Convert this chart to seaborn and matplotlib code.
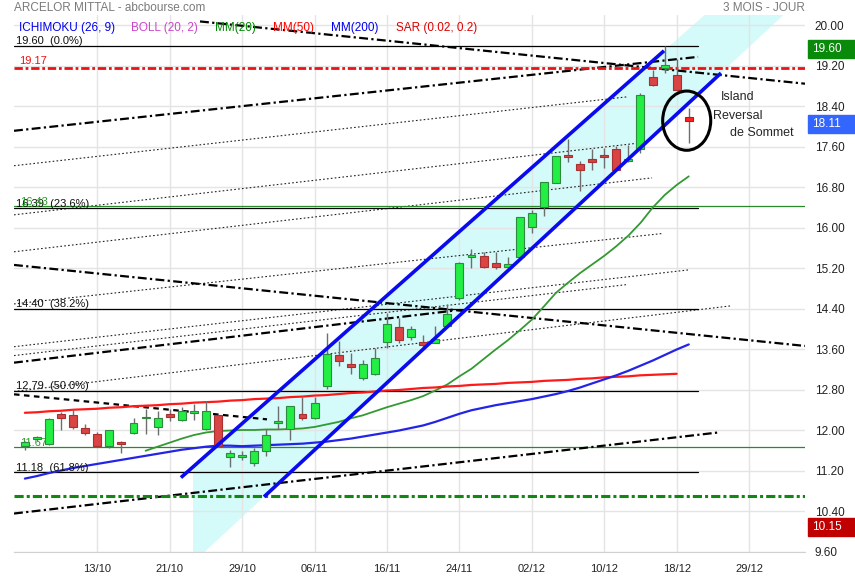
import matplotlib.pyplot as plt
import matplotlib.transforms as mtransforms
from matplotlib.patches import Ellipse, Rectangle
import seaborn as sns

sns.set_style("white")
plt.rcParams["font.family"] = ["Liberation Sans", "DejaVu Sans"]

# daily candles 05/10 -> 21/12 (one entry per trading day)
opens = [11.69, 11.83, 11.74, 12.33, 12.31, 12.05, 11.93, 11.70, 11.77, 11.96,
         12.24, 12.07, 12.33, 12.20, 12.35, 12.03, 12.31, 11.47, 11.47, 11.36,
         11.60, 12.15, 12.02, 12.33, 12.25, 12.87, 13.50, 13.31, 13.04, 13.12,
         13.74, 14.05, 13.84, 13.74, 13.73, 14.06, 14.62, 15.43, 15.45, 15.31,
         15.23, 15.43, 16.02, 16.41, 16.89, 17.45, 17.27, 17.37, 17.45, 17.57,
         17.33, 17.56, 18.99, 19.16, 19.03, 18.20]
highs = [11.80, 11.90, 12.25, 12.36, 12.43, 12.13, 11.98, 12.01, 11.79, 12.25,
         12.42, 12.38, 12.42, 12.46, 12.53, 12.58, 12.33, 11.62, 11.60, 11.65,
         12.02, 12.48, 12.49, 12.67, 12.67, 13.93, 13.76, 13.53, 13.40, 13.63,
         14.32, 14.22, 14.06, 13.89, 14.06, 14.49, 15.33, 15.59, 15.52, 15.52,
         15.43, 16.22, 16.36, 16.91, 17.43, 17.75, 17.32, 17.57, 17.58, 17.61,
         17.64, 18.66, 19.13, 19.60, 19.33, 18.37]
lows = [11.62, 11.80, 11.72, 12.00, 12.03, 11.92, 11.69, 11.65, 11.56, 11.94,
        11.94, 11.92, 12.18, 12.19, 12.21, 12.01, 11.68, 11.27, 11.42, 11.29,
        11.49, 12.02, 11.82, 12.20, 12.22, 12.82, 13.27, 13.12, 13.00, 13.10,
        13.63, 13.73, 13.79, 13.63, 13.72, 14.04, 14.58, 15.21, 15.21, 15.19,
        15.22, 15.41, 15.90, 16.23, 16.88, 17.30, 16.73, 17.15, 17.19, 17.15,
        17.30, 17.48, 18.80, 19.07, 18.70, 17.67]
closes = [11.77, 11.87, 12.23, 12.24, 12.06, 11.95, 11.70, 12.00, 11.73, 12.15,
          12.26, 12.25, 12.27, 12.39, 12.39, 12.38, 11.70, 11.56, 11.52, 11.59,
          11.92, 12.19, 12.49, 12.25, 12.54, 13.51, 13.37, 13.25, 13.31, 13.43,
          14.11, 13.79, 14.01, 13.69, 13.81, 14.30, 15.31, 15.45, 15.23, 15.23,
          15.29, 16.22, 16.30, 16.91, 17.43, 17.40, 17.15, 17.30, 17.40, 17.15,
          17.36, 18.62, 18.83, 19.21, 18.72, 18.11]

# moving averages as drawn on the chart
mm20_first = 10
mm20 = [11.60, 11.68, 11.76, 11.84, 11.91, 11.96, 11.99, 12.00, 12.01, 12.01,
        12.02, 12.02, 12.03, 12.04, 12.07, 12.12, 12.17, 12.24, 12.30, 12.38,
        12.46, 12.53, 12.60, 12.68, 12.79, 12.91, 13.07, 13.22, 13.41, 13.60,
        13.78, 13.98, 14.19, 14.45, 14.72, 14.92, 15.11, 15.28, 15.45, 15.64,
        15.85, 16.10, 16.40, 16.65, 16.85, 17.02]
mm50 = [12.35, 12.36, 12.38, 12.39, 12.41, 12.42, 12.43, 12.45, 12.46, 12.48,
        12.49, 12.50, 12.52, 12.53, 12.55, 12.56, 12.57, 12.59, 12.60, 12.62,
        12.63, 12.64, 12.66, 12.67, 12.69, 12.70, 12.72, 12.74, 12.75, 12.77,
        12.79, 12.80, 12.82, 12.84, 12.85, 12.87, 12.88, 12.90, 12.91, 12.92,
        12.94, 12.95, 12.96, 12.98, 12.99, 13.00, 13.02, 13.03, 13.05, 13.06,
        13.07, 13.09, 13.10, 13.11, 13.12]
mm200 = [11.05, 11.10, 11.16, 11.21, 11.26, 11.30, 11.34, 11.38, 11.42, 11.46,
         11.50, 11.54, 11.58, 11.62, 11.65, 11.68, 11.70, 11.70, 11.69, 11.70,
         11.71, 11.72, 11.73, 11.74, 11.76, 11.78, 11.81, 11.84, 11.88, 11.92,
         11.96, 12.00, 12.05, 12.10, 12.17, 12.25, 12.33, 12.40, 12.45, 12.50,
         12.54, 12.58, 12.62, 12.67, 12.72, 12.78, 12.85, 12.93, 13.01, 13.09,
         13.18, 13.28, 13.38, 13.49, 13.60, 13.70]

xtick_pos = [6, 12, 18, 24, 30, 36, 42, 48, 54, 60]
xtick_labels = ["13/10", "21/10", "29/10", "06/11", "16/11", "24/11",
                "02/12", "10/12", "18/12", "29/12"]
ytick_vals = [20.00, 19.20, 18.40, 17.60, 16.80, 16.00, 15.20, 14.40,
              13.60, 12.80, 12.00, 11.20, 10.40, 9.60]

fib_levels = [19.60, 16.39, 14.40, 12.79, 11.18]
fib_labels = ["19.60  (0.0%)", "16.39  (23.6%)", "14.40  (38.2%)",
              "12.79  (50.0%)", "11.18  (61.8%)"]
fib_end = 55.77

# hand drawn objects: (bar0, price0, bar1, price1)
channel_upper = (12.93, 11.07, 52.95, 19.50)
channel_lower = (19.81, 10.69, 57.67, 19.06)
band_x = [13.93, 64.63]
band_low = [9.39, 20.60]
band_high = [11.28, 21.96]

dotted_lines = [(-0.9, 17.23, 49.88, 18.59), (-0.9, 16.26, 50.96, 17.68),
                (-0.9, 15.53, 51.96, 16.99), (-0.9, 14.50, 52.78, 15.89),
                (-0.9, 13.655, 55.10, 15.175), (-0.9, 13.48, 49.80, 14.88),
                (-0.9, 12.77, 58.42, 14.46)]
dashdot_lines = [(-0.9, 17.92, 55.77, 19.38), (-0.9, 13.34, 35.63, 14.37),
                 (-0.9, 10.36, 57.42, 11.96), (14.51, 20.08, 64.63, 18.85),
                 (-0.9, 15.27, 64.63, 13.67)]
dashed_line = (-0.9, 12.715, 20.06, 12.22)

green_levels = [16.43, 11.67]
red_dashdot_level = 19.17
green_dashdot_level = 10.70

price_tags = [19.60, 18.11, 10.15]
tag_colors = ["#0a8a0a", "#3366ff", "#c00000"]

fig = plt.figure(figsize=(8.55, 5.8), dpi=100)
ax = fig.add_axes([14 / 855, 28 / 580, 791 / 855, 537 / 580])
ax.set_xlim(-0.9, 64.63)
ax.set_ylim(9.6, 20.207)
ax.set_axisbelow(True)
ax.grid(True, color="#e4e4e4", lw=1.0)
for s in ["left", "right", "top"]:
    ax.spines[s].set_visible(False)
ax.spines["bottom"].set_color("#d0d0d0")

ax.fill_between(band_x, band_low, band_high, color="#d4fafa", lw=0, zorder=0.2)

dd = (0, (4, 1.5, 1, 1.5))
for x0, y0, x1, y1 in dotted_lines:
    ax.plot([x0, x1], [y0, y1], color="#222222", lw=0.8, ls=(0, (1.5, 2)), zorder=1)
for x0, y0, x1, y1 in dashdot_lines:
    ax.plot([x0, x1], [y0, y1], color="black", lw=1.6, ls=dd, zorder=1.2)
x0, y0, x1, y1 = dashed_line
ax.plot([x0, x1], [y0, y1], color="black", lw=1.6, ls=(0, (2.5, 2)), zorder=1.2)

for lvl, lab in zip(fib_levels, fib_labels):
    ax.plot([-0.9, fib_end], [lvl, lvl], color="black", lw=0.9, zorder=1)
    ax.text(-0.75, lvl - 0.01, lab, fontsize=8, va="bottom", ha="left", color="#111111")

for lvl in green_levels:
    ax.axhline(lvl, color="#2a8a2a", lw=0.9, zorder=1)
    ax.text(-0.4, lvl - 0.01, f"{lvl:.2f}", fontsize=8, va="bottom", color="#2a9a2a")
ax.axhline(red_dashdot_level, color="#ee1111", lw=2.0, ls=(0, (3, 1, 1, 1)), zorder=1.3)
ax.text(-0.5, red_dashdot_level + 0.03, f"{red_dashdot_level:.2f}", fontsize=8,
        va="bottom", color="#ee1111")
ax.axhline(green_dashdot_level, color="#118811", lw=2.2, ls=(0, (3, 1, 1, 1)), zorder=1.3)

# moving averages
sns.lineplot(x=list(range(mm20_first, mm20_first + len(mm20))), y=mm20, ax=ax,
             color="#339933", lw=1.3, legend=False, zorder=2)
sns.lineplot(x=list(range(len(mm50))), y=mm50, ax=ax, color="#ff1a1a", lw=1.6,
             legend=False, zorder=2)
sns.lineplot(x=list(range(len(mm200))), y=mm200, ax=ax, color="#2424e8", lw=1.6,
             legend=False, zorder=2)

# candles
idx = list(range(len(closes)))
ax.vlines(idx, lows, highs, color="#6e6e6e", lw=1.0, zorder=3)
body_col, edge_col = [], []
for i, (o, c) in enumerate(zip(opens, closes)):
    if c >= o:
        body_col.append("#22ee44")
        edge_col.append("#2d8a3e")
    elif i == len(closes) - 1:
        body_col.append("#ff2020")
        edge_col.append("#cc1010")
    else:
        body_col.append("#d94444")
        edge_col.append("#a83030")
heights = [max(abs(c - o), 0.03) for o, c in zip(opens, closes)]
bottoms = [min(o, c) for o, c in zip(opens, closes)]
ax.bar(idx, heights, bottom=bottoms, width=0.66, color=body_col,
       edgecolor=edge_col, lw=0.8, zorder=3.5)

# channel
for x0, y0, x1, y1 in [channel_upper, channel_lower]:
    ax.plot([x0, x1], [y0, y1], color="#0a0aee", lw=2.6, zorder=4,
            solid_capstyle="butt")

ax.add_patch(Ellipse((54.83, 18.12), 3.98, 1.17, fill=False, ec="black", lw=2.2, zorder=5))
ax.text(59.08, 18.59, "Island", fontsize=9, ha="center", va="center")
ax.text(59.06, 18.22, "Reversal", fontsize=9, ha="center", va="center")
ax.text(61.07, 17.87, "de Sommet", fontsize=9, ha="center", va="center")

ax.set_xticks(xtick_pos)
ax.set_xticklabels(xtick_labels)
ax.set_yticks(ytick_vals)
ax.set_yticklabels([f"{v:.2f}" for v in ytick_vals])
ax.yaxis.tick_right()
ax.tick_params(axis="y", length=0, pad=7, labelsize=8.5, labelcolor="#222222")
ax.tick_params(axis="x", length=0, pad=9, labelsize=8, labelcolor="#222222")

blend = mtransforms.blended_transform_factory(ax.transAxes, ax.transData)
for val, col in zip(price_tags, tag_colors):
    ax.add_patch(Rectangle((1.0038, val - 0.06 - 0.175), 0.06, 0.35, transform=blend,
                           color=col, clip_on=False, zorder=6))
    ax.text(1.0088, val - 0.06, f"{val:.2f}", transform=blend, color="white",
            fontsize=8.5, va="center", ha="left", zorder=7, clip_on=False)

fig.text(14 / 855, 1 - 8 / 580, "ARCELOR MITTAL - abcbourse.com", color="#7a7a7a",
         fontsize=8.5, va="center", ha="left")
fig.text(805 / 855, 1 - 8 / 580, "3 MOIS - JOUR", color="#7a7a7a",
         fontsize=8.5, va="center", ha="right")
legend_items = [("ICHIMOKU (26, 9)", "#0000ee", 19), ("BOLL (20, 2)", "#cc44cc", 131),
                ("MM(20)", "#008800", 215), ("MM(50)", "#ff0000", 273),
                ("MM(200)", "#0000ee", 331), ("SAR (0.02, 0.2)", "#dd0000", 396)]
for txt, col, px in legend_items:
    fig.text(px / 855, 1 - 28 / 580, txt, color=col, fontsize=8.5, va="center", ha="left")

fig.savefig("out.png", dpi=100)
